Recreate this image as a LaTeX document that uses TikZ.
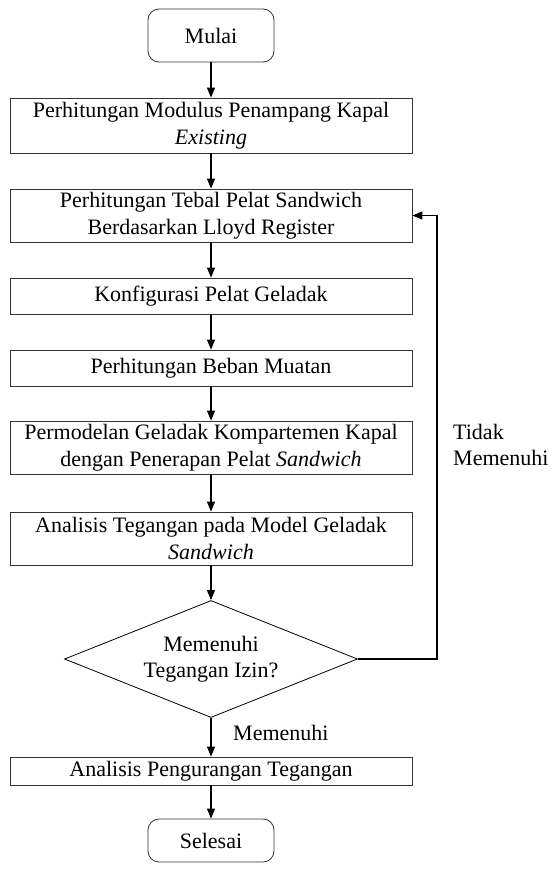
\documentclass[tikz,border=0pt]{standalone}
\usepackage{fontspec}
\setmainfont{Liberation Serif}
\usetikzlibrary{arrows.meta,shapes.geometric}
\begin{document}
\begin{tikzpicture}[x=1pt,y=-1pt,
  every node/.style={font=\fontsize{22}{26.5}\selectfont, inner sep=0pt, align=center},
  procbox/.style={draw=black!80, line width=0.8pt, rectangle, minimum width=402pt},
  termbox/.style={draw=black!80, line width=0.8pt, rectangle, rounded corners=11pt, minimum width=126pt},
  decbox/.style={draw=black, line width=0.8pt, diamond, aspect=2.5, minimum width=293pt, minimum height=117pt},
  arr/.style={draw=black, line width=1.1pt, -{Triangle[length=10pt,width=8pt]}},
  lbl/.style={align=left}]
\useasboundingbox (0,0) rectangle (552,870);
\node[termbox, minimum height=53pt] (start) at (211,35.5) {Mulai};
\node[procbox, minimum height=55pt] (b1) at (211,125.5) {Perhitungan Modulus Penampang Kapal\\\textit{Existing}};
\node[procbox, minimum height=53pt] (b2) at (211,215.5) {Perhitungan Tebal Pelat Sandwich\\Berdasarkan Lloyd Register};
\node[procbox, minimum height=36pt] (b3) at (211,296) {Konfigurasi Pelat Geladak};
\node[procbox, minimum height=36pt] (b4) at (211,368) {Perhitungan Beban Muatan};
\node[procbox, minimum height=53pt] (b5) at (211,447.5) {Permodelan Geladak Kompartemen Kapal\\dengan Penerapan Pelat \textit{Sandwich}};
\node[procbox, minimum height=53pt] (b6) at (211,538.5) {Analisis Tegangan pada Model Geladak\\\textit{Sandwich}};
\node[decbox] (dec) at (211,659) {Memenuhi\\Tegangan Izin?};
\node[procbox, minimum height=28pt] (b7) at (211,771) {Analisis Pengurangan Tegangan};
\node[termbox, minimum height=43pt] (stop) at (211,840.5) {Selesai};
\coordinate (lp) at (437,0);
\draw[arr] (start) -- (b1);
\draw[arr] (b1) -- (b2);
\draw[arr] (b2) -- (b3);
\draw[arr] (b3) -- (b4);
\draw[arr] (b4) -- (b5);
\draw[arr] (b5) -- (b6);
\draw[arr] (b6) -- (dec);
\draw[arr] (dec) -- (b7);
\draw[arr] (b7) -- (stop);
\draw[arr] (dec.east) -- (dec.east -| lp) |- (b2.east);
\node[lbl, anchor=north west] (tidak) at (453,424) {Tidak\\Memenuhi};
\node[lbl, anchor=base west] (yes) at (233,740) {Memenuhi};
\end{tikzpicture}
\end{document}
